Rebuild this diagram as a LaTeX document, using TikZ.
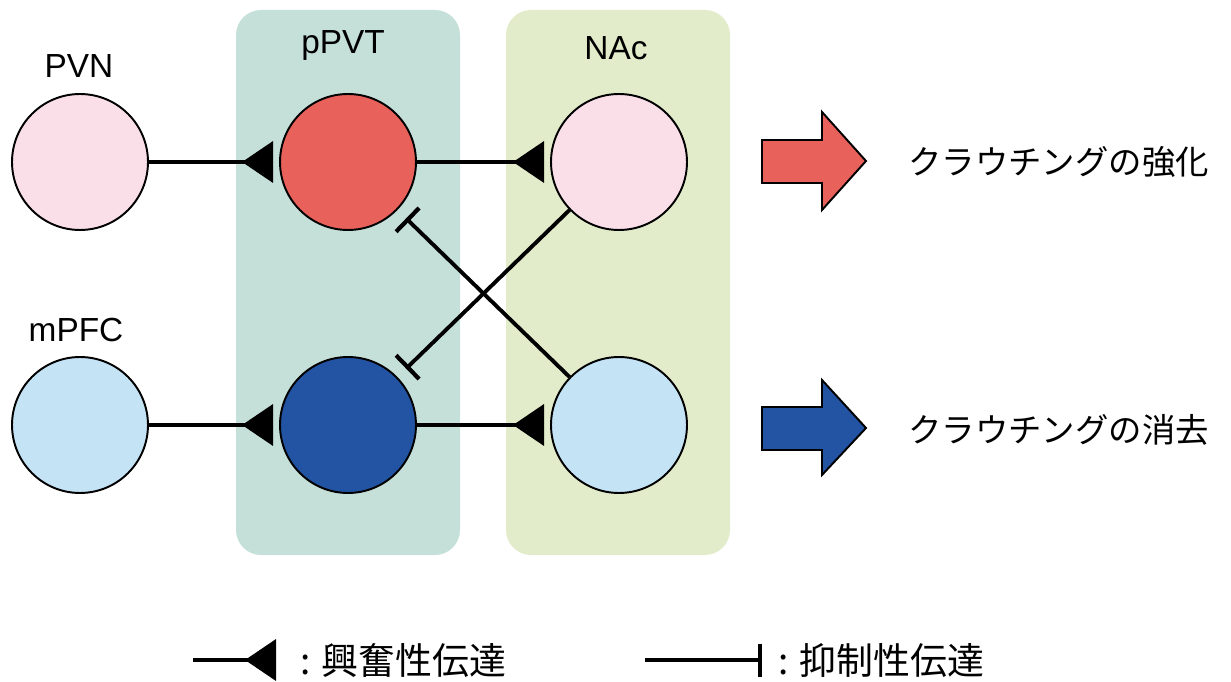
\documentclass[tikz,border=0pt]{standalone}
\usepackage{fontspec}
\setmainfont{Liberation Sans}
\newfontfamily\jpfont{Noto Sans CJK JP}
\usetikzlibrary{arrows.meta}

\definecolor{boxppvt}{HTML}{C5E0D8}
\definecolor{boxnac}{HTML}{E3ECCA}
\definecolor{cellred}{HTML}{E8615A}
\definecolor{cellblue}{HTML}{2254A3}
\definecolor{cellpink}{HTML}{FADFE9}
\definecolor{cellsky}{HTML}{C4E3F5}

\tikzset{
	cell/.style = {circle, draw, line width=1.1pt, minimum size=2.72cm, inner sep=0pt},
	area/.style = {font=\fontsize{19}{22}\selectfont},
	excite/.style = {line width=2.2pt, -{Triangle[reversed, length=0.62cm, width=0.82cm]}, shorten >=0.12cm},
	inhibit/.style = {line width=2.2pt, -{Bar[width=0.66cm, line width=2.4pt]}, shorten >=0.24cm},
	result/.style = {anchor=west, inner sep=0pt, font=\jpfont\fontsize{19}{22}\selectfont},
	legend/.style = {anchor=west, inner sep=0pt, font=\jpfont\fontsize{21}{24}\selectfont}
}

\begin{document}
\begin{tikzpicture}[x=0.02cm, y=-0.02cm]
	\useasboundingbox (0,0) rectangle (1231,682);
	% regions
	\fill [boxppvt, rounded corners=0.5cm] (236,10) rectangle (460,555);
	\fill [boxnac, rounded corners=0.5cm] (506,10) rectangle (730,555);
	\node [area] (lppvt) at (343,45) {pPVT};
	\node [area] (lnac) at (616,48) {NAc};
	\node [area] (lpvn) at (79,66) {PVN};
	\node [area] (lmpfc) at (76,330) {mPFC};
	% cells
	\node [cell, fill=cellpink] (pvn) at (80,162) {};
	\node [cell, fill=cellred] (ppvtR) at (348,162) {};
	\node [cell, fill=cellpink] (nacR) at (619,162) {};
	\node [cell, fill=cellsky] (mpfc) at (80,425) {};
	\node [cell, fill=cellblue] (ppvtB) at (348,425) {};
	\node [cell, fill=cellsky] (nacB) at (619,425) {};
	% connections
	\draw [excite] (pvn) -- (ppvtR);
	\draw [excite] (ppvtR) -- (nacR);
	\draw [excite] (mpfc) -- (ppvtB);
	\draw [excite] (ppvtB) -- (nacB);
	\draw [inhibit] (nacB) -- (ppvtR);
	\draw [inhibit] (nacR) -- (ppvtB);
	% outcomes
	\draw [fill=cellred, line width=1.1pt] (762,140) -- (822,140) -- (822,112) -- (866,161) -- (822,210) -- (822,183) -- (762,183) -- cycle;
	\draw [fill=cellblue, line width=1.1pt] (762,407) -- (822,407) -- (822,380) -- (866,428) -- (822,475) -- (822,450) -- (762,450) -- cycle;
	\node [result] (up) at (908,162) {クラウチングの強化};
	\node [result] (down) at (908,430) {クラウチングの消去};
	% legend
	\coordinate (exA) at (193,660);
	\coordinate (exB) at (276,660);
	\draw [excite, shorten >=0pt] (exA) -- (exB);
	\node [legend] (exT) at (300,660) {: 興奮性伝達};
	\coordinate (inA) at (645,660);
	\coordinate (inB) at (762,660);
	\draw [inhibit, shorten >=0pt] (inA) -- (inB);
	\node [legend] (inT) at (778,660) {: 抑制性伝達};
\end{tikzpicture}
\end{document}
